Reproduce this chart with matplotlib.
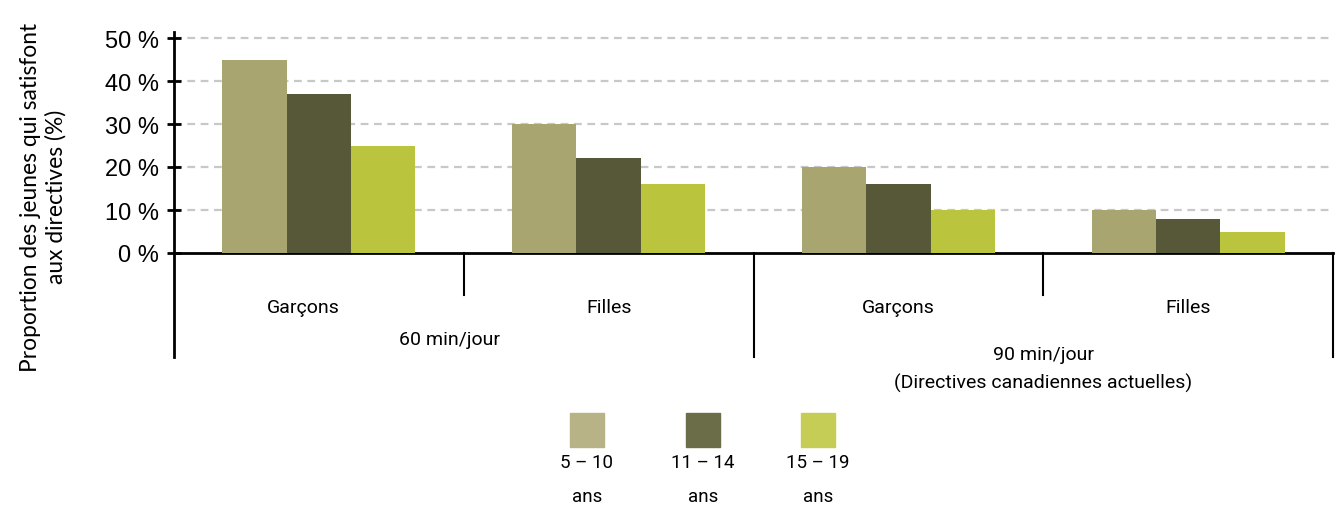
import matplotlib
matplotlib.use("Agg")
import matplotlib.pyplot as plt
from matplotlib.patches import Rectangle
from matplotlib.transforms import blended_transform_factory
import numpy as np

groups = ["Garçons", "Filles", "Garçons", "Filles"]
guidelines = ["60 min/jour", "90 min/jour\n(Directives canadiennes actuelles)"]
series_names = ["5 – 10\nans", "11 – 14\nans", "15 – 19\nans"]
age_5_10 = [45, 30, 20, 10]
age_11_14 = [37, 22, 16, 8]
age_15_19 = [25, 16, 10, 5]
yticks = [0, 10, 20, 30, 40, 50]
ytick_labels = ["0 %", "10 %", "20 %", "30 %", "40 %", "50 %"]

bar_colors = ["#a8a571", "#565838", "#bac43c"]
legend_colors = ["#b8b386", "#6b6c48", "#c6cd56"]

W, H = 1337, 506
fig = plt.figure(figsize=(W / 100, H / 100), dpi=100)
L, R, B, T = 174, 1333, 254, 33
ax = fig.add_axes([L / W, (H - B) / H, (R - L) / W, (B - T) / H])

ymax = 50 * (B - T) / (B - 39)
ax.set_ylim(0, ymax)
ax.set_xlim(0, len(groups))

x = np.arange(len(groups)) + 0.5
bw = 0.222
for i, vals in enumerate([age_5_10, age_11_14, age_15_19]):
    ax.bar(x + (i - 1) * bw, vals, width=bw, color=bar_colors[i], zorder=3)

ax.set_yticks(yticks)
ax.set_yticklabels(ytick_labels, fontsize=17, family=["Liberation Sans", "DejaVu Sans"])
ax.tick_params(axis="y", direction="inout", length=10, width=2, pad=6)
for yv in yticks[1:]:
    ax.axhline(yv, color="#c8c8c8", lw=1.6, ls=(0, (3.5, 2.5)), zorder=1)

ax.set_xticks([])
for s in ["top", "right"]:
    ax.spines[s].set_visible(False)
ax.spines["bottom"].set_linewidth(2)
ax.spines["left"].set_linewidth(2)
ax.spines["left"].set_bounds(0, ymax)

# dividers below axis
trans = blended_transform_factory(ax.transData, ax.transAxes)
px = 1.0 / (B - T)
short = -42 * px
long_ = -104 * px
for xv in [1, 3]:
    ax.plot([xv, xv], [0, short], transform=trans, color="black", lw=1.5, clip_on=False)
for xv in [0, 2, 4]:
    ax.plot([xv, xv], [0, long_], transform=trans, color="black", lw=1.5 if xv else 2, clip_on=False)

cat_font = ["Roboto", "DejaVu Sans"]
label_shift = [-0.055, 0, 0, 0]
for xi, g, sh in zip(x, groups, label_shift):
    ax.text(xi + sh, -(308 - B) * px, g, transform=trans, ha="center", va="center",
            fontsize=14, family=cat_font)
ax.text(1 - 0.05, -(340 - B) * px, guidelines[0], transform=trans, ha="center", va="center",
        fontsize=14, family=cat_font)
ax.text(3, -(369.5 - B) * px, guidelines[1], transform=trans, ha="center", va="center",
        fontsize=14, family=cat_font, linespacing=1.65)

# y label
fig.text(43 / W, 1 - 197 / H, "Proportion des jeunes qui satisfont\naux directives (%)",
         rotation=90, ha="center", va="center", fontsize=16.4,
         family=["Lato", "DejaVu Sans"], linespacing=1.22)

# legend
centers = [587, 703, 818]
for c, col, name in zip(centers, legend_colors, series_names):
    fig.add_artist(Rectangle(((c - 17) / W, 1 - 448 / H), 34 / W, 34 / H,
                             transform=fig.transFigure, color=col))
    fig.text(c / W, 1 - 480 / H, name, ha="center", va="center", fontsize=13.5,
             family=cat_font, linespacing=2.2)

fig.savefig("out.png", dpi=100)
